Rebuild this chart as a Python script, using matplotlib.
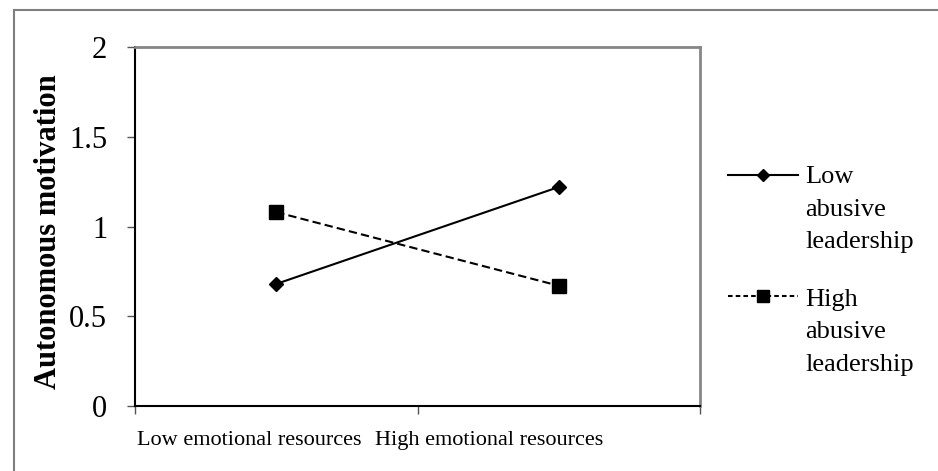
import matplotlib
matplotlib.use("Agg")
import matplotlib.pyplot as plt
from matplotlib.lines import Line2D
from matplotlib.transforms import ScaledTranslation

categories = ["Low emotional resources", "High emotional resources"]
series_names = ["Low\nabusive\nleadership", "High\nabusive\nleadership"]
low_abusive = [0.68, 1.22]
high_abusive = [1.08, 0.67]
yticks = [0, 0.5, 1, 1.5, 2]
ytick_labels = ["0", "0.5", "1", "1.5", "2"]
ylabel = "Autonomous motivation"

W, H = 938, 471
plt.rcParams['font.family'] = ['Liberation Serif', 'DejaVu Serif']
fig = plt.figure(figsize=(W / 100, H / 100), dpi=100)

def fx(px):
    return px / W

def fy(py):
    return 1 - py / H

ax = fig.add_axes([fx(135), fy(406), fx(700) - fx(135), fy(47) - fy(406)])
x = list(range(len(categories)))

ax.plot(x, low_abusive, color='black', lw=1.5, marker='D', markersize=7,
        markerfacecolor='black', markeredgecolor='black', zorder=3)
ax.plot(x, high_abusive, color='black', lw=1.5, ls=(0, (4, 2)), marker='s',
        markersize=9.5, markerfacecolor='black', markeredgecolor='black', zorder=3)

ax.set_xlim(-0.5, len(categories) - 0.5)
ax.set_ylim(0, 2)
ax.set_yticks(yticks)
ax.set_yticklabels(ytick_labels, fontsize=22)
ax.tick_params(axis='y', direction='out', length=6, width=1, color='#555555', pad=14)

ax.set_xticks([-0.5, 0.5, 1.5])
ax.set_xticklabels([])
ax.tick_params(axis='x', which='major', direction='out', length=6, width=1, color='#555555')
ax.set_xticks(x, minor=True)
ax.set_xticklabels(categories, minor=True, fontsize=16)
ax.tick_params(axis='x', which='minor', length=0, pad=18)
shifts = [-27, -70]
for lab, s in zip(ax.xaxis.get_minorticklabels(), shifts):
    lab.set_transform(lab.get_transform() + ScaledTranslation(s / 100, 0, fig.dpi_scale_trans))

ax.set_ylabel(ylabel, fontsize=22, fontweight='bold')
ax.yaxis.set_label_coords((63 - 135) / (700 - 135), 0.487)

for side in ['top', 'right']:
    ax.spines[side].set_color('#868686')
    ax.spines[side].set_linewidth(2)
for side in ['left', 'bottom']:
    ax.spines[side].set_color('black')
    ax.spines[side].set_linewidth(1.5)

# legend drawn manually in figure pixels
leg_specs = [
    dict(ls='-', marker='D', ms=6, ly=175, ty=183),
    dict(ls=(0, (2.2, 1.5)), marker='s', ms=9, ly=296, ty=306),
]
line_gap = 32.5
for name, spec in zip(series_names, leg_specs):
    fig.add_artist(Line2D([fx(728), fx(798)], [fy(spec['ly'])] * 2, color='black',
                          lw=1.5, ls=spec['ls']))
    fig.add_artist(Line2D([fx(763)], [fy(spec['ly'])], color='black', marker=spec['marker'],
                          markersize=spec['ms'], markerfacecolor='black', markeredgecolor='black'))
    for i, part in enumerate(name.split("\n")):
        fig.text(fx(805), fy(spec['ty'] + i * line_gap), part, fontsize=19,
                 va='baseline', ha='left')

# outer chart border (top and left)
fig.add_artist(Line2D([fx(14), fx(938)], [fy(10), fy(10)], color='#7f7f7f', lw=1.5))
fig.add_artist(Line2D([fx(14), fx(14)], [fy(10), fy(471)], color='#7f7f7f', lw=1.5))

fig.savefig("out.png", dpi=100)
